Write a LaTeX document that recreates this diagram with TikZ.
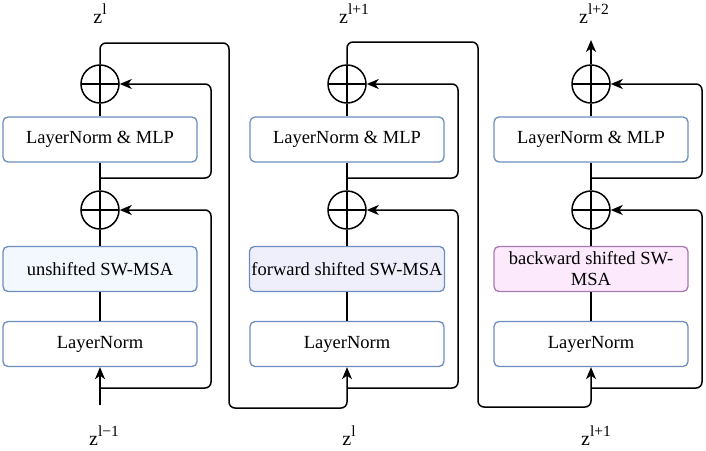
\documentclass[tikz,border=0pt]{standalone}
\usepackage{fontspec}
\setmainfont{Liberation Serif}
\usetikzlibrary{arrows.meta}
\definecolor{bblue}{HTML}{6C8EBF}
\definecolor{bpurple}{HTML}{A67AB0}
\definecolor{fillA}{HTML}{F3F7FE}
\definecolor{fillB}{HTML}{EFEFFC}
\definecolor{fillC}{HTML}{FCEAFC}
\newcommand{\zlab}[1]{z\raisebox{0.45em}{\fontsize{15.5}{17}\selectfont #1}}
\begin{document}
\begin{tikzpicture}[x=1pt,y=-1pt,
  blockbox/.style={draw=bblue, line width=1.3pt, rounded corners=5pt, fill=white,
    minimum width=194pt, minimum height=45pt, inner sep=2pt, align=center,
    font=\fontsize{18.5}{21}\selectfont},
  sumc/.style={circle, draw, line width=1.5pt, minimum size=38pt, inner sep=0pt,
    path picture={\draw[line width=1.5pt]
      (path picture bounding box.west) -- (path picture bounding box.east)
      (path picture bounding box.north) -- (path picture bounding box.south);}},
  conn/.style={line width=1.5pt, rounded corners=6pt},
  arr/.style={conn, -{Stealth[length=12pt,width=10pt,inset=3.5pt]}},
  lbl/.style={font=\fontsize{20}{22}\selectfont, anchor=base, inner sep=0pt}
]
\useasboundingbox (0,0) rectangle (706,450);

% ---------- column 1 ----------
\node[sumc] (p2a) at (100,84) {};
\node[blockbox] (mlpa) at (100,139.5) {LayerNorm \& MLP};
\node[sumc] (p1a) at (100,210) {};
\node[blockbox, fill=fillA] (msaa) at (100,269) {unshifted SW-MSA};
\node[blockbox] (lna) at (100,344) {LayerNorm};
\coordinate (ina) at (100,405);
\coordinate (sa2) at (100,178);
\coordinate (sa1) at (100,388);
\coordinate (ka2) at (211,84);
\coordinate (ka1) at (211,210);
\coordinate (ta) at (100,43);
\coordinate (ra) at (229,408);

% ---------- column 2 ----------
\node[sumc] (p2b) at (347,84) {};
\node[blockbox] (mlpb) at (347,139.5) {LayerNorm \& MLP};
\node[sumc] (p1b) at (347,210) {};
\node[blockbox, fill=fillB] (msab) at (347,269) {forward shifted SW-MSA};
\node[blockbox] (lnb) at (347,344) {LayerNorm};
\coordinate (sb2) at (347,178);
\coordinate (sb1) at (347,388);
\coordinate (kb2) at (458,84);
\coordinate (kb1) at (458,210);
\coordinate (tb) at (347,42);
\coordinate (rb) at (478,407);

% ---------- column 3 ----------
\node[sumc] (p2c) at (591,84) {};
\node[blockbox] (mlpc) at (591,139.5) {LayerNorm \& MLP};
\node[sumc] (p1c) at (591,210) {};
\node[blockbox, draw=bpurple, fill=fillC] (msac) at (591,269) {backward shifted SW-\\MSA};
\node[blockbox] (lnc) at (591,344) {LayerNorm};
\coordinate (sc2) at (591,178);
\coordinate (sc1) at (591,388);
\coordinate (kc2) at (702,84);
\coordinate (kc1) at (702,210);
\coordinate (tc) at (591,40);

% ---------- main lines ----------
\foreach \c in {a,b,c}{
  \draw[conn] (p2\c) -- (mlp\c);
  \draw[conn] (mlp\c) -- (p1\c);
  \draw[conn] (p1\c) -- (msa\c);
  \draw[conn] (msa\c) -- (ln\c);
  \draw[arr] (s\c2) -| (k\c2) -- (p2\c.east);
  \draw[arr] (s\c1) -| (k\c1) -- (p1\c.east);
}
\draw[arr] (ina) -- (lna.south);
\draw[arr] (p2a.north) -- (ta) -| (ra) -| (lnb.south);
\draw[arr] (p2b.north) -- (tb) -| (rb) -| (lnc.south);
\draw[arr] (p2c.north) -- (tc);

% ---------- labels ----------
\node[lbl] (za) at (100,23) {\zlab{l}};
\node[lbl] (zb) at (354,23) {\zlab{l+1}};
\node[lbl] (zc) at (594,23) {\zlab{l+2}};
\node[lbl] (zd) at (104,445) {\zlab{l−1}};
\node[lbl] (ze) at (349,445) {\zlab{l}};
\node[lbl] (zf) at (596,445) {\zlab{l+1}};
\end{tikzpicture}
\end{document}
